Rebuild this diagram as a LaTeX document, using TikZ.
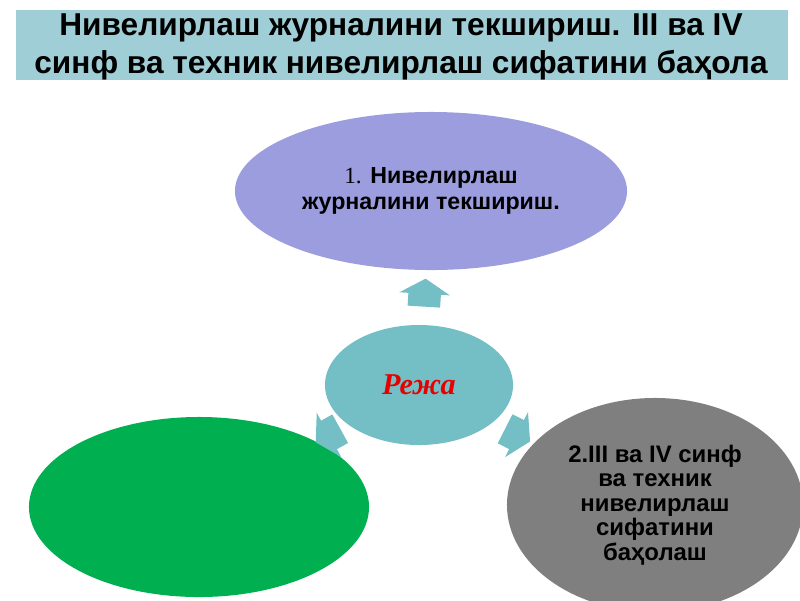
\documentclass[tikz,border=0pt]{standalone}
\usepackage{fontspec}
\setmainfont{Liberation Sans}
\newfontfamily\serifface{Liberation Serif}
\usetikzlibrary{shapes.geometric,shapes.arrows}

\definecolor{titlebg}{RGB}{160,206,214}
\definecolor{hubteal}{RGB}{116,190,197}
\definecolor{steppurple}{RGB}{155,157,222}
\definecolor{stepgreen}{RGB}{0,176,80}
\definecolor{stepgray}{RGB}{127,127,127}
\definecolor{planred}{RGB}{230,0,0}

\tikzset{
  bubble/.style={ellipse,draw=none,inner sep=0pt,align=center},
  blockarrow/.style={single arrow,fill=hubteal,draw=none,inner xsep=0pt,inner ysep=0.4cm,
    minimum height=0.7cm,single arrow head extend=0.225cm,single arrow tip angle=118,
    sloped,allow upside down}
}

\begin{document}
\begin{tikzpicture}[x=0.025cm,y=-0.025cm]
\useasboundingbox (0,0) rectangle (800,600);
\clip (0,0) rectangle (800,600);
			\node[fill=titlebg,minimum width=19.3cm,minimum height=1.75cm,inner sep=0pt] (titlebox) at (402,45) {};
			\node[align=center,inner sep=0pt,font=\bfseries\fontsize{22.5}{27}\selectfont] (title) at (401,47)
			      {Нивелирлаш журналини текшириш. III ва IV\\синф ва техник нивелирлаш сифатини баҳола};
			\node[bubble,fill=steppurple,minimum width=9.8cm,minimum height=3.95cm,
			      font=\bfseries\fontsize{16.5}{18.5}\selectfont] (journal) at (431,191)
			      {{\serifface\mdseries 1.} Нивелирлаш\\журналини текшириш.};
			\node[bubble,fill=hubteal,minimum width=4.7cm,minimum height=3cm,
			      font=\serifface\bfseries\itshape\fontsize{21.5}{24}\selectfont,text=planred] (plan) at (419,385) {Режа};
			\node[bubble,fill=stepgreen,minimum width=8.5cm,minimum height=4.5cm] (blank) at (199,507) {};
			\node[bubble,fill=stepgray,minimum width=7.4cm,minimum height=5.35cm,
			      font=\bfseries\fontsize{17}{17.5}\selectfont] (quality) at (655,505)
			      {2.III ва IV синф\\ва техник\\нивелирлаш\\сифатини\\баҳолаш};
			\path (plan) -- node[blockarrow] (toup) {} (journal);
			\path (plan) -- node[blockarrow] (toleft) {} (blank);
			\path (plan) -- node[blockarrow] (toright) {} (quality);
\end{tikzpicture}
\end{document}
